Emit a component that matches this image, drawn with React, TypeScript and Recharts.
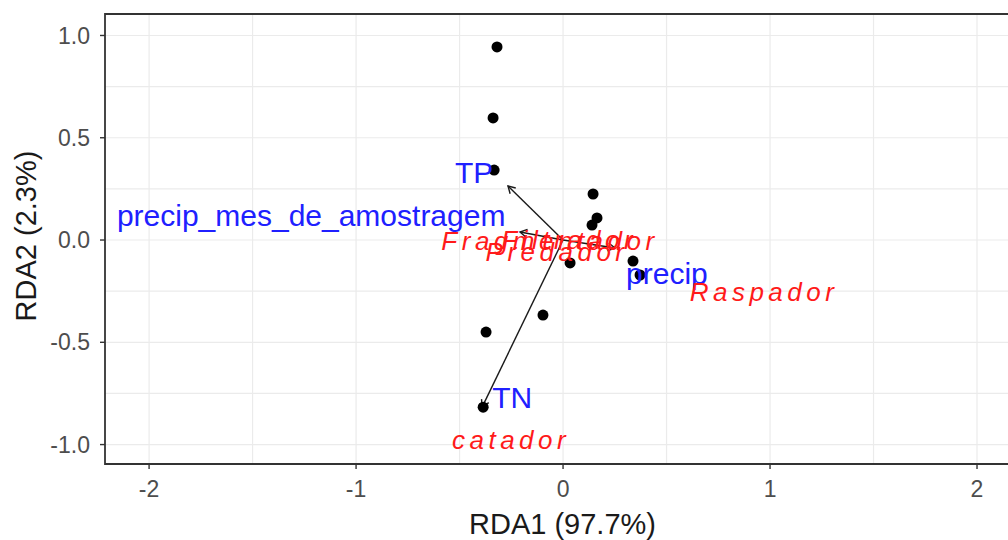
import { ScatterChart, Scatter, XAxis, YAxis, CartesianGrid, ReferenceLine, ReferenceArea } from 'recharts';

const FONT = '"Liberation Sans", Arial, sans-serif';

// Site scores (black dots)
const siteX = [-0.319, -0.338, -0.333, 0.145, 0.164, 0.14, 0.034, 0.338, 0.372, -0.372, -0.097, -0.386];
const siteY = [0.944, 0.597, 0.342, 0.225, 0.108, 0.073, -0.112, -0.103, -0.171, -0.45, -0.367, -0.817];

// Environmental vectors (arrows) and their labels
const envNames = ['TP', 'precip_mes_de_amostragem', 'precip', 'TN'];
const envArrowX = [-0.266, -0.208, 0.251, -0.391];
const envArrowY = [0.264, 0.039, -0.039, -0.817];
const envLabelX = [-0.43, -1.217, 0.502, -0.246];
const envLabelY = [0.33, 0.119, -0.164, -0.771];

// Species (functional groups), red italic labels
const sppNames = ['Fragmentador', 'Filtrador', 'Predador', 'Raspador', 'catador'];
const sppX = [-0.063, 0.03, -0.029, 0.971, -0.251];
const sppY = [-0.007, 0.0, -0.059, -0.254, -0.98];

const xTicks = [-2, -1, 0, 1, 2];
const yTicks = [-1, -0.5, 0, 0.5, 1];
const xGrid = [-2, -1.5, -1, -0.5, 0, 0.5, 1, 1.5, 2];
const yGrid = [-1, -0.75, -0.5, -0.25, 0, 0.25, 0.5, 0.75, 1];

const X_DOMAIN: [number, number] = [-2.213, 2.198];
const Y_DOMAIN: [number, number] = [-1.095, 1.105];

const sites = siteX.map((x, i) => ({ x, y: siteY[i] }));
const envLabels = envNames.map((name, i) => ({ name, x: envLabelX[i], y: envLabelY[i] }));
const sppLabels = sppNames.map((name, i) => ({ name, x: sppX[i], y: sppY[i] }));

const arrowShape = (p: any) => {
  const { x1, y1, x2, y2 } = p;
  const ang = Math.atan2(y2 - y1, x2 - x1);
  const len = 8;
  const spread = Math.PI / 6;
  const ax = x2 - len * Math.cos(ang - spread);
  const ay = y2 - len * Math.sin(ang - spread);
  const bx = x2 - len * Math.cos(ang + spread);
  const by = y2 - len * Math.sin(ang + spread);
  return (
    <g>
      <line x1={x1} y1={y1} x2={x2} y2={y2} stroke="#1a1a1a" strokeWidth={1.4} />
      <polyline points={`${ax},${ay} ${x2},${y2} ${bx},${by}`} fill="none" stroke="#1a1a1a" strokeWidth={1.4} />
    </g>
  );
};

const App = () => {
  return (
    <div style={{ position: 'absolute', left: 0, top: 0, width: 1008, height: 540, overflow: 'hidden', background: '#fff' }}>
      <ScatterChart width={1020} height={540} margin={{ top: 14, right: 2, bottom: 0, left: 0 }}>
        <CartesianGrid stroke="#ebebeb" strokeWidth={1.2} verticalValues={xGrid} horizontalValues={yGrid} />
        <XAxis
          type="number"
          dataKey="x"
          domain={X_DOMAIN}
          ticks={xTicks}
          allowDataOverflow
          height={76}
          axisLine={false}
          tickSize={5}
          tickMargin={12}
          tickLine={{ stroke: '#333', strokeWidth: 1.4 }}
          tick={{ fill: '#4d4d4d', fontSize: 23, fontFamily: FONT }}
          label={{
            content: (p: any) => {
              const vb = p.viewBox;
              return (
                <text x={vb.x + vb.width / 2 + 1} y={vb.y + vb.height - 6} textAnchor="middle" fill="#1a1a1a" fontSize={29} fontFamily={FONT}>
                  RDA1 (97.7%)
                </text>
              );
            },
          }}
        />
        <YAxis
          type="number"
          dataKey="y"
          domain={Y_DOMAIN}
          ticks={yTicks}
          allowDataOverflow
          width={105}
          axisLine={false}
          tickSize={5}
          tickMargin={10}
          tickFormatter={(v: number) => v.toFixed(1)}
          tickLine={{ stroke: '#333', strokeWidth: 1.4 }}
          tick={{ fill: '#4d4d4d', fontSize: 23, fontFamily: FONT }}
          label={{
            content: (p: any) => {
              const vb = p.viewBox;
              const cx = 36;
              const cy = vb.y + vb.height / 2 - 3;
              return (
                <text x={cx} y={cy} transform={`rotate(-90 ${cx} ${cy})`} textAnchor="middle" fill="#1a1a1a" fontSize={29} fontFamily={FONT}>
                  RDA2 (2.3%)
                </text>
              );
            },
          }}
        />
        <ReferenceArea
          x1={X_DOMAIN[0]}
          x2={X_DOMAIN[1]}
          y1={Y_DOMAIN[0]}
          y2={Y_DOMAIN[1]}
          fill="none"
          fillOpacity={0}
          stroke="#333"
          strokeWidth={1.8}
          ifOverflow="visible"
        />
        {envNames.map((n, i) => (
          <ReferenceLine
            key={n}
            segment={[{ x: 0, y: 0 }, { x: envArrowX[i], y: envArrowY[i] }]}
            ifOverflow="visible"
            shape={arrowShape}
          />
        ))}
        <Scatter
          data={sites}
          isAnimationActive={false}
          shape={(p: any) => <circle cx={p.cx} cy={p.cy} r={5.5} fill="#000" />}
        />
        <Scatter
          data={envLabels}
          isAnimationActive={false}
          shape={(p: any) => (
            <text x={p.cx} y={p.cy} textAnchor="middle" dominantBaseline="central" fill="#2020ff" fontSize={30} fontFamily={FONT}>
              {p.payload.name}
            </text>
          )}
        />
        <Scatter
          data={sppLabels}
          isAnimationActive={false}
          shape={(p: any) => (
            <text x={p.cx} y={p.cy} textAnchor="middle" dominantBaseline="central" fill="#ff1a1a" fontSize={26} fontStyle="italic" letterSpacing={4.5} fontFamily={FONT}>
              {p.payload.name}
            </text>
          )}
        />
      </ScatterChart>
    </div>
  );
};

export default App;
